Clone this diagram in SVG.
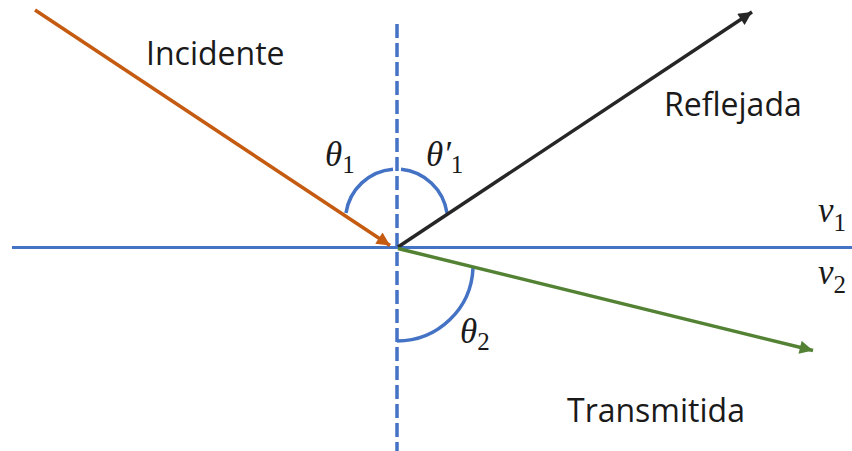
<svg xmlns="http://www.w3.org/2000/svg" width="852" height="451" viewBox="0 0 852 451">
  <style>
    .lbl { font-family: "Open Sans", "Liberation Sans", sans-serif; font-size: 32px; fill: #1a1a1a; }
    .math { font-family: "Liberation Serif", "DejaVu Serif", serif; font-style: italic; font-size: 35px; fill: #1a1a1a; }
    .sub { font-family: "Liberation Serif", "DejaVu Serif", serif; font-style: normal; font-size: 25px; }
    .axis { stroke: #4472C4; stroke-width: 3; fill: none; }
    .normal { stroke: #4472C4; stroke-width: 3.5; fill: none; stroke-dasharray: 14 5; }
    .arc { stroke: #4472C4; stroke-width: 3.5; fill: none; }
    .ray { stroke-width: 3.5; fill: none; }
  </style>
  <defs>
    <marker id="ah-orange" viewBox="0 0 10 10" refX="10" refY="5" markerWidth="4.4" markerHeight="3.8" orient="auto" markerUnits="strokeWidth">
      <path d="M0,0 L10,5 L0,10 Z" fill="#C55A11"/>
    </marker>
    <marker id="ah-black" viewBox="0 0 10 10" refX="10" refY="5" markerWidth="4.4" markerHeight="3.8" orient="auto" markerUnits="strokeWidth">
      <path d="M0,0 L10,5 L0,10 Z" fill="#262626"/>
    </marker>
    <marker id="ah-green" viewBox="0 0 10 10" refX="10" refY="5" markerWidth="4.4" markerHeight="3.8" orient="auto" markerUnits="strokeWidth">
      <path d="M0,0 L10,5 L0,10 Z" fill="#548235"/>
    </marker>
  </defs>

  <g id="interface">
    <line class="axis" x1="12" y1="247.5" x2="852" y2="247.5"/>
    <line class="normal" x1="397" y1="24" x2="397" y2="451"/>
  </g>

  <g id="angles">
    <path class="arc" d="M346,213 A51.5,51.5 0 0 1 393,169.2"/>
    <path class="arc" d="M401,169.2 A51.5,51.5 0 0 1 447,213"/>
    <path class="arc" d="M473,268 A76,76 0 0 1 397,341"/>
  </g>

  <g id="connectors">
    <line class="ray" stroke="#C55A11" x1="35" y1="10" x2="390" y2="245.5" marker-end="url(#ah-orange)"/>
    <line class="ray" stroke="#262626" x1="398" y1="247" x2="752" y2="12" marker-end="url(#ah-black)"/>
    <line class="ray" stroke="#548235" x1="398" y1="248.5" x2="813" y2="350.5" marker-end="url(#ah-green)"/>
  </g>

  <g id="label-incidente"><text class="lbl" x="146" y="65">Incidente</text></g>
  <g id="label-reflejada"><text class="lbl" x="664" y="116">Reflejada</text></g>
  <g id="label-transmitida"><text class="lbl" x="567" y="422">Transmitida</text></g>

  <g id="label-theta1"><text class="math" x="325" y="166">θ<tspan class="sub" dy="7">1</tspan></text></g>
  <g id="label-theta1p"><text class="math" x="426" y="166">θ′<tspan class="sub" dy="7">1</tspan></text></g>
  <g id="label-theta2"><text class="math" x="460" y="343">θ<tspan class="sub" dy="7">2</tspan></text></g>
  <g id="label-v1"><text class="math" x="818" y="222">v<tspan class="sub" dy="9">1</tspan></text></g>
  <g id="label-v2"><text class="math" x="818" y="284">v<tspan class="sub" dy="9">2</tspan></text></g>
</svg>
